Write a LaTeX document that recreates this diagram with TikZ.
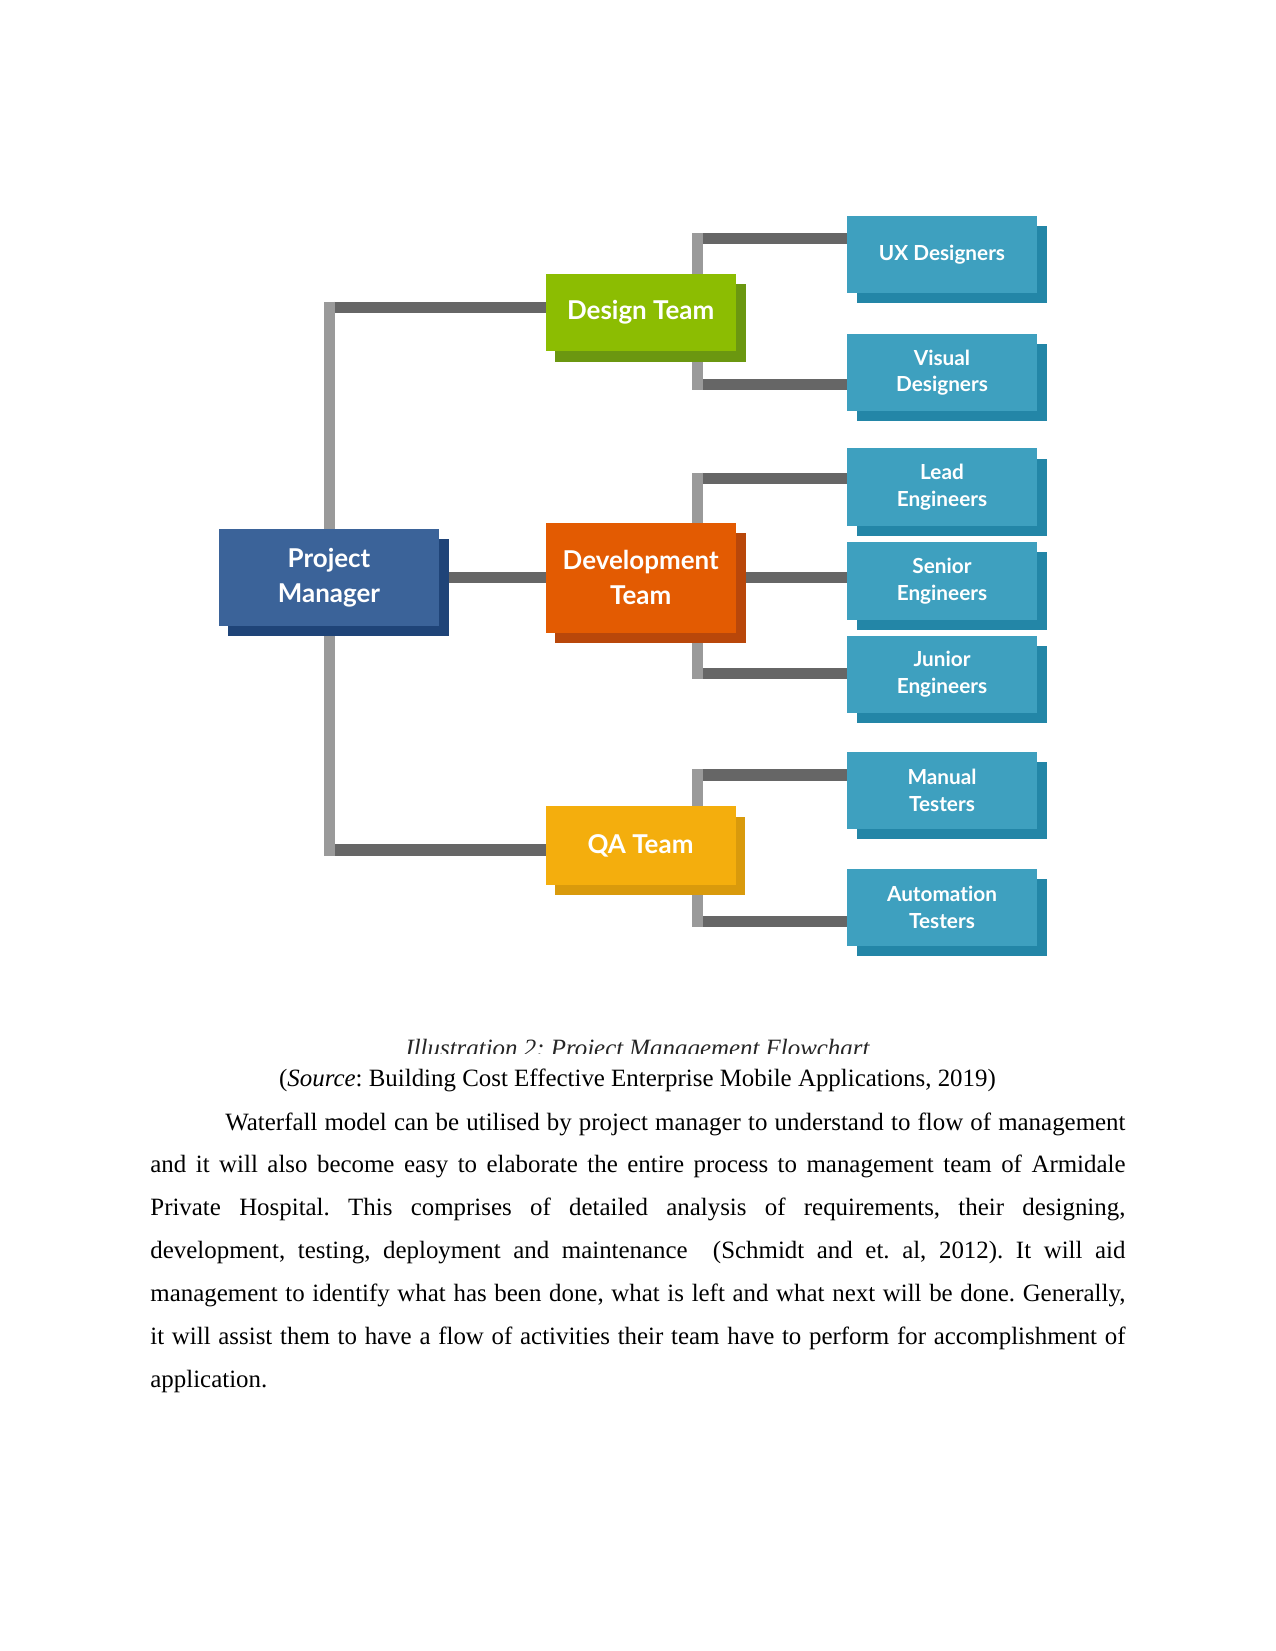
\documentclass[tikz,border=0pt]{standalone}
\usepackage{fontspec}
\setmainfont{Liberation Serif}
\newfontfamily\boxfont[Ligatures={NoCommon,NoRare,NoDiscretionary}]{Lato}
\usetikzlibrary{shadows,backgrounds}
\definecolor{pmblue}{HTML}{3B6399}
\definecolor{pmshadow}{HTML}{1F4478}
\definecolor{dgreen}{HTML}{8CBD02}
\definecolor{dgreensh}{HTML}{6B9710}
\definecolor{devor}{HTML}{E35B02}
\definecolor{devorsh}{HTML}{B9470A}
\definecolor{qay}{HTML}{F4AE0D}
\definecolor{qaysh}{HTML}{D99A0C}
\definecolor{tealbox}{HTML}{3EA0BF}
\definecolor{tealsh}{HTML}{2386A7}
\definecolor{barlight}{HTML}{9A9A9A}
\definecolor{bardark}{HTML}{666666}
\frenchspacing
\begin{document}
\begin{tikzpicture}[x=0.48bp,y=-0.48bp,
  box/.style={rectangle, inner sep=0pt, text=white, align=center, draw=none},
  teambox/.style={box, minimum width=91.2bp, font=\boxfont\bfseries\fontsize{12.5}{16.8}\selectfont},
  sh/.style={drop shadow={shadow xshift=4.7bp, shadow yshift=-4.9bp, fill=#1, opacity=1}},
  rolebox/.style={box, minimum width=91.2bp, minimum height=37.2bp, fill=tealbox,
    font=\boxfont\bfseries\fontsize{10}{12.8}\selectfont, sh=tealsh},
  hbar/.style={draw=bardark, line width=5.3bp},
  vbar/.style={draw=barlight, line width=5.1bp},
]
\useasboundingbox (0,0) rectangle (1275,1651);

% team level
\node[teambox, fill=pmblue, minimum width=105.9bp, minimum height=46.6bp, sh=pmshadow] (pm) at (329,577.5) {Project\\Manager};
\node[teambox, fill=dgreen, minimum height=37.4bp, sh=dgreensh] (dsn) at (640.7,312.5) {Design Team};
\node[teambox, fill=devor, minimum height=52.8bp, sh=devorsh] (dev) at (640.7,577.5) {Development\\Team};
\node[teambox, fill=qay, minimum height=37.6bp, sh=qaysh] (qa) at (640.5,845.5) {QA Team};

% roles
\node[rolebox] (ux)  at (942,254.5) {UX Designers};
\node[rolebox] (vis) at (942,372.5) {Visual\\Designers};
\node[rolebox] (lead) at (942,487.2) {Lead\\Engineers};
\node[rolebox] (sen) at (942,581) {Senior\\Engineers};
\node[rolebox] (jun) at (942,674.4) {Junior\\Engineers};
\node[rolebox] (man) at (942,790.5) {Manual\\Testers};
\node[rolebox] (aut) at (942,907.5) {Automation\\Testers};

\begin{scope}[on background layer]
  \fill[white] (0,0) rectangle (1275,1651);
  % junction coordinates
  \coordinate (pmt) at (329.7,301.7);
  \coordinate (pmb) at (329.7,856);
  \coordinate (j1) at (329.7,307.5);
  \coordinate (j2) at (329.7,850);
  \coordinate (dt) at (697.3,233.3);
  \coordinate (db) at (697.3,390);
  \coordinate (d1) at (697.3,238.8);
  \coordinate (d2) at (697.3,384.5);
  \coordinate (vt) at (697.3,472.7);
  \coordinate (vb) at (697.3,679.3);
  \coordinate (v1) at (697.3,478.3);
  \coordinate (v3) at (697.3,673.5);
  \coordinate (qt) at (697.3,769.3);
  \coordinate (qb) at (697.3,927.3);
  \coordinate (q1) at (697.3,775);
  \coordinate (q2) at (697.3,921.5);
  % horizontal bars
  \draw[hbar] (j1) -- (j1 -| dsn.center);
  \draw[hbar] (j2) -- (j2 -| qa.center);
  \draw[hbar] (pm.center) -- (pm.center -| dev.center);
  \draw[hbar] (d1) -- (d1 -| ux.center);
  \draw[hbar] (d2) -- (d2 -| vis.center);
  \draw[hbar] (v1) -- (v1 -| lead.center);
  \draw[hbar] (dev.center) -- (dev.center -| sen.center);
  \draw[hbar] (v3) -- (v3 -| jun.center);
  \draw[hbar] (q1) -- (q1 -| man.center);
  \draw[hbar] (q2) -- (q2 -| aut.center);
  % vertical bars
  \draw[vbar] (pmt) -- (pmb);
  \draw[vbar] (dt) -- (db);
  \draw[vbar] (vt) -- (vb);
  \draw[vbar] (qt) -- (qb);
\end{scope}

% caption (cut off at its lower part)
\begin{scope}
  \clip (0,0) rectangle (1275,1053);
  \node[anchor=base, inner sep=0pt, text=black!85, font=\fontsize{12}{14}\selectfont\itshape] (cap) at (637.5,1056.5) {Illustration 2: Project Management Flowchart};
\end{scope}

\node[anchor=base, inner sep=0pt, font=\fontsize{12}{14}\selectfont] (src) at (637.5,1086.7) {(\textit{Source}: Building Cost Effective Enterprise Mobile Applications, 2019)};

\node[anchor=base west, inner sep=0pt] (para) at (150,1130) {\parbox[t]{468bp}{\fontsize{12}{20.7}\selectfont
\hbox to 468bp{\hspace*{36bp}Waterfall model can be utilised by project manager to understand to flow of management}
\hbox to 468bp{and it will also become easy to elaborate the entire process to management team of Armidale}
\hbox to 468bp{Private Hospital. This comprises of detailed analysis of requirements, their designing,}
\hbox to 468bp{development, testing, deployment and maintenance\ \ (Schmidt and et. al, 2012). It will aid}
\hbox to 468bp{management to identify what has been done, what is left and what next will be done. Generally,}
\hbox to 468bp{it will assist them to have a flow of activities their team have to perform for accomplishment of}
\hbox{application.}}};
\end{tikzpicture}
\end{document}
